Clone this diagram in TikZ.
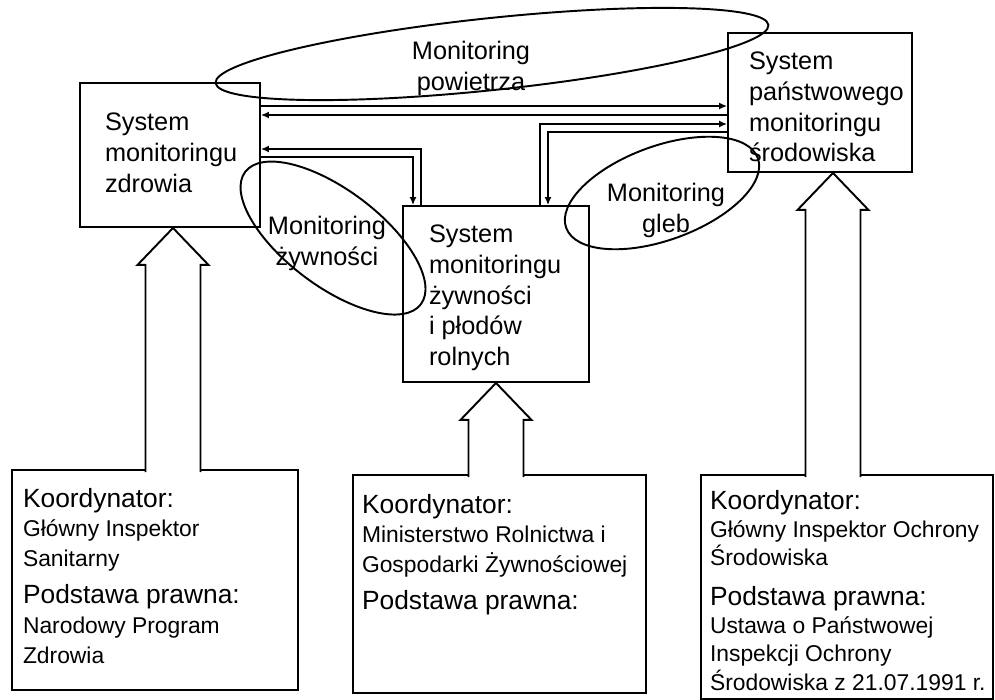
\documentclass[tikz,border=0pt]{standalone}
\usepackage{fontspec}
\setmainfont{Liberation Sans}
\usetikzlibrary{calc,arrows.meta}
\def\blockarrow(#1)(#2){\draw[fill=white] ($(#1)+(-27.5,3)$) -- ($(#2)+(-27.5,37)$) -- ($(#2)+(-35.5,37)$) -- (#2) -- ($(#2)+(35.5,37)$) -- ($(#2)+(27.5,37)$) -- ($(#1)+(27.5,3)$);}
\def\naglowek#1{{\fontsize{15}{17.5}\selectfont #1}}

\begin{document}
\begin{tikzpicture}[x=0.02cm, y=-0.02cm, line width=1.1pt,
		box/.style={draw, inner sep=0},
		txt/.style={align=left, inner sep=0, anchor=north west, font=\fontsize{14.4}{17.5}\selectfont},
		opis/.style={align=left, inner sep=0, anchor=north west, font=\fontsize{13}{17}\selectfont},
		etykieta/.style={align=center, inner sep=0, anchor=north, font=\fontsize{14.4}{17.5}\selectfont},
		link/.style={line width=1pt, -{Latex[length=4.5pt,width=4pt]}}]
			%%%%% START %%%%%
			\useasboundingbox (0,0) rectangle (995,700);
			
			% systemy
			\node[box, minimum width=3.6cm, minimum height=2.88cm] (zdr) at (170,155) {};
			\node[box, minimum width=3.68cm, minimum height=2.78cm] (sro) at (820,102.5) {};
			\node[box, minimum width=3.72cm, minimum height=3.52cm] (zyw) at (496,294) {};
			
			\node[txt] (zdrt) at ($(zdr.north west)+(25,30)$) {System\\monitoringu\\zdrowia};
			\node[txt] (srot) at ($(sro.north west)+(21,19)$) {System\\państwowego\\monitoringu\\środowiska};
			\node[txt] (zywt) at ($(zyw.north west)+(26,19)$) {System\\monitoringu\\żywności\\i płodów\\rolnych};
			
			% koordynatorzy
			\node[box, minimum width=5.72cm, minimum height=4.4cm] (kzdr) at (155,580) {};
			\node[box, minimum width=5.86cm, minimum height=4.36cm] (kzyw) at (499.5,584) {};
			\node[box, minimum width=5.84cm, minimum height=4.48cm] (ksro) at (847,587) {};
			
			\node[opis] (kzdrt) at ($(kzdr.north west)+(11,18)$) {\naglowek{Koordynator:}\\Główny Inspektor\\Sanitarny\\[4pt]\naglowek{Podstawa prawna:}\\Narodowy Program\\Zdrowia};
			\node[opis] (kzywt) at ($(kzyw.north west)+(9,19)$) {\naglowek{Koordynator:}\\Ministerstwo Rolnictwa i\\Gospodarki Żywnościowej\\[4pt]\naglowek{Podstawa prawna:}};
			\node[opis, font=\fontsize{13}{16}\selectfont] (ksrot) at ($(ksro.north west)+(9,15)$) {\naglowek{Koordynator:}\\Główny Inspektor Ochrony\\Środowiska\\[7pt]\naglowek{Podstawa prawna:}\\Ustawa o Państwowej\\Inspekcji Ochrony\\Środowiska z 21.07.1991 r.};
			
			% strzalki
			\coordinate (tzdr) at (zdr.south -| 173,0);
			\coordinate (tzyw) at (zyw.south -| 496,0);
			\coordinate (tsro) at (sro.south -| 833,0);
			\blockarrow(kzdr.north -| tzdr)(tzdr)
			\blockarrow(kzyw.north -| tzyw)(tzyw)
			\blockarrow(ksro.north -| tsro)(tsro)
			
			% polaczenia
			\draw[link] (zdr.east |- 0,106) -- (sro.west |- 0,106);
			\draw[link] (sro.west |- 0,115) -- (zdr.east |- 0,115);
			\draw[link] (zdr.east |- 0,157) -| (zyw.north -| 413,0);
			\draw[link] (zyw.north -| 421,0) |- (zdr.east |- 0,149);
			\draw[link] (sro.west |- 0,132) -| (zyw.north -| 548,0);
			\draw[link] (zyw.north -| 540,0) |- (sro.west |- 0,124);
			
			% monitoringi
			\coordinate (mpow) at (492,54);
			\coordinate (mzyw) at (333,238);
			\coordinate (mgle) at (662,193);
			\draw[rotate around={6:(mpow)}] (mpow) ellipse [x radius=5.56cm, y radius=0.72cm];
			\draw[rotate around={-37:(mzyw)}] (mzyw) ellipse [x radius=2.2cm, y radius=0.96cm];
			\draw[rotate around={20:(mgle)}] (mgle) ellipse [x radius=2.04cm, y radius=0.94cm];
			\node[etykieta] (mpowt) at ($(mpow)+(-21,-14)$) {Monitoring\\powietrza};
			\node[etykieta] (mzywt) at ($(mzyw)+(-6,-23)$) {Monitoring\\żywności};
			\node[etykieta] (mglet) at ($(mgle)+(4,-11)$) {Monitoring\\gleb};
			%%%%% END %%%%%
\end{tikzpicture}
\end{document}
